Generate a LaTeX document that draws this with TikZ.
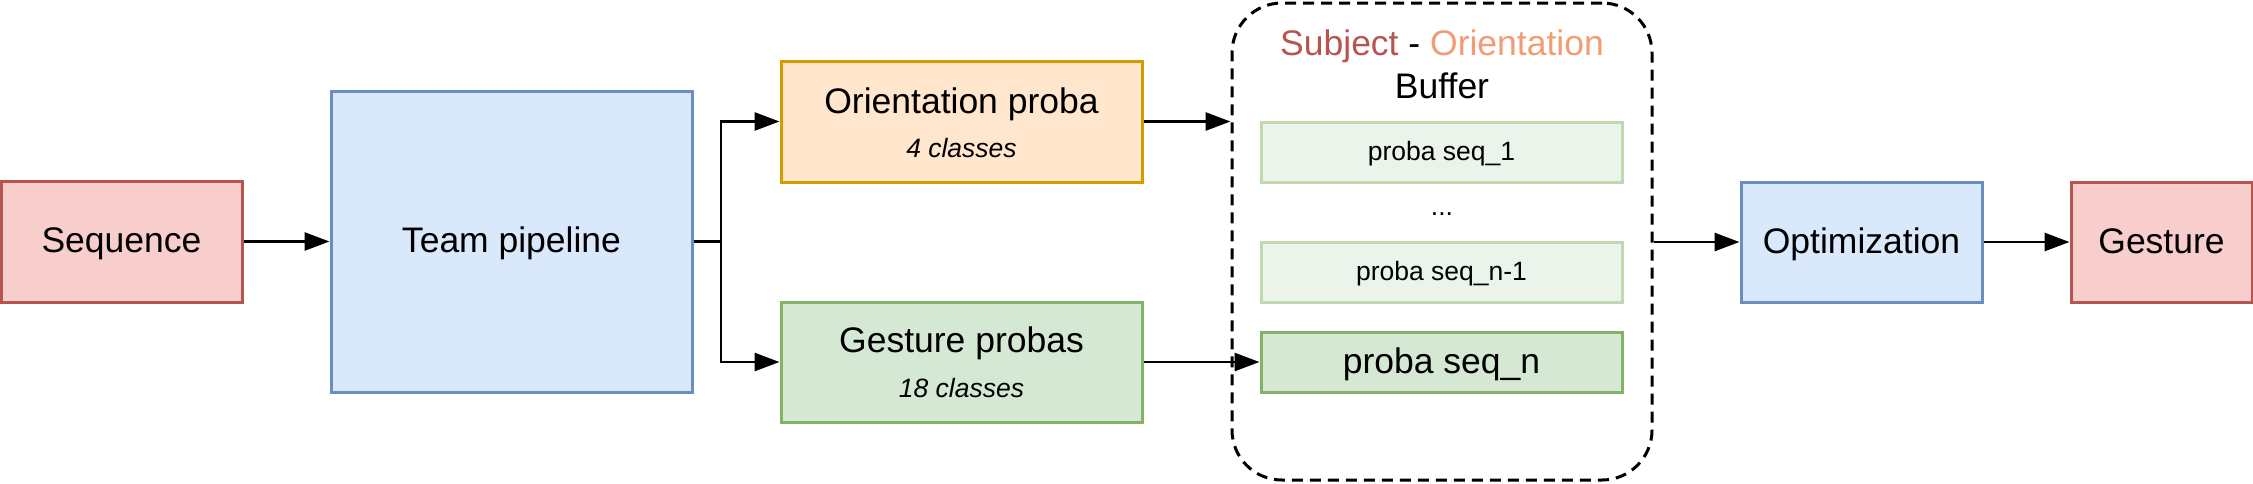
\documentclass[tikz,border=0pt]{standalone}
\usepackage{fontspec}
\setmainfont{Liberation Sans}
\usetikzlibrary{arrows.meta,calc}
\definecolor{redF}{HTML}{F8CECC}\definecolor{redD}{HTML}{B85450}
\definecolor{bluF}{HTML}{DAE8FC}\definecolor{bluD}{HTML}{6C8EBF}
\definecolor{oraF}{HTML}{FFE6CC}\definecolor{oraD}{HTML}{D79B00}
\definecolor{grnF}{HTML}{D5E8D4}\definecolor{grnD}{HTML}{82B366}
\definecolor{lgrF}{HTML}{EAF4EA}\definecolor{lgrD}{HTML}{C0D9B2}
\definecolor{subj}{HTML}{B85450}\definecolor{orie}{HTML}{F19C75}
\begin{document}
\begin{tikzpicture}[x=1pt,y=-1pt,
  box/.style={draw, line width=3pt, inner sep=0pt, text height=26pt, text depth=4pt, font=\fontsize{35.5}{42}\selectfont},
  smallbox/.style={box, text height=20pt, text depth=3pt, font=\fontsize{26.5}{31}\selectfont},
  redbox/.style={box, fill=redF, draw=redD},
  blubox/.style={box, fill=bluF, draw=bluD},
  orabox/.style={box, fill=oraF, draw=oraD},
  grnbox/.style={box, fill=grnF, draw=grnD},
  lgrbox/.style={smallbox, fill=lgrF, draw=lgrD},
  arr/.style={-{Triangle[length=25pt,width=18pt]}, line width=2.8pt},
  big/.style={anchor=base, inner sep=0pt, font=\fontsize{35.5}{42}\selectfont},
  cls/.style={anchor=base, inner sep=0pt, font=\fontsize{26.5}{31}\selectfont\itshape},
  sml/.style={anchor=base, inner sep=0pt, font=\fontsize{26.5}{31}\selectfont}]
\useasboundingbox (0,0) rectangle (2253,483);

% buffer container
\node[draw, line width=3pt, dash pattern=on 11pt off 7pt, rounded corners=50pt,
      minimum width=420pt, minimum height=477pt, inner sep=0pt] (buffer) at (1442,241.5) {};

\node[redbox, minimum width=241pt, minimum height=121pt] (seq) at (121.5,241.5) {Sequence};
\node[blubox, minimum width=361pt, minimum height=301pt] (team) at (511.5,241.5) {Team pipeline};
\node[orabox, minimum width=361pt, minimum height=121pt] (orient) at (961.5,121.5) {};
\node[grnbox, minimum width=361pt, minimum height=120pt] (gest) at (961.5,362) {};
\node[big] (orientT) at (961.5,113) {Orientation proba};
\node[cls] (orientC) at (961.5,157) {4 classes};
\node[big] (gestT) at (961.5,352.5) {Gesture probas};
\node[cls] (gestC) at (961.5,397.5) {18 classes};

\node[big] (title) at (1442,55) {\textcolor{subj}{Subject} - \textcolor{orie}{Orientation}};
\node[big] (buftitle) at (1442,98) {Buffer};
\node[lgrbox, minimum width=361pt, minimum height=60pt] (seq1) at (1441.5,152) {proba seq\_1};
\node[sml] (dots) at (1442,215) {...};
\node[lgrbox, minimum width=361pt, minimum height=60pt] (seqn1) at (1441.5,272) {proba seq\_n-1};
\node[grnbox, minimum width=361pt, minimum height=60pt] (seqn) at (1441.5,362) {proba seq\_n};

\node[blubox, minimum width=241pt, minimum height=120pt] (opt) at (1861.5,242) {Optimization};
\node[redbox, minimum width=181pt, minimum height=120pt] (gesture) at (2161.5,242) {Gesture};

\coordinate (split) at (721,241.5);
\draw[arr] (seq) -- (team);
\draw[line width=2.8pt] (team.east) -- (split);
\draw[arr] (split) |- (orient.west);
\draw[arr] (split) |- (gest.west);
\draw[arr] (orient.east) -- (orient.east -| buffer.west);
\draw[arr] (gest.east) -- (seqn.west);
\draw[arr] (buffer.east |- opt.west) -- (opt.west);
\draw[arr] (opt) -- (gesture);
\end{tikzpicture}
\end{document}
